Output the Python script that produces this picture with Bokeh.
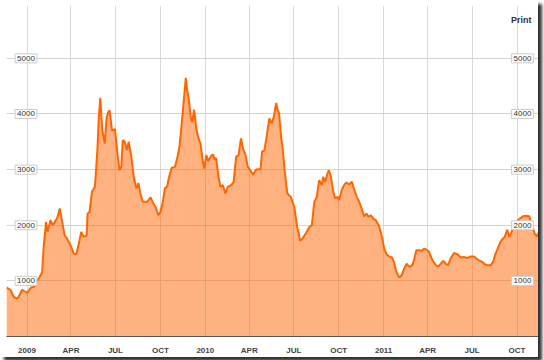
import pandas as pd
from bokeh.plotting import figure
from bokeh.models import Label, FixedTicker, ColumnDataSource, Range1d, Grid
from bokeh.embed import file_html
from bokeh.resources import INLINE

dates = [
    "2008-11-20", "2008-11-28", "2008-12-05", "2008-12-12", "2008-12-15", "2008-12-22", "2008-12-29",
    "2009-01-02", "2009-01-09", "2009-01-15", "2009-01-20", "2009-01-27", "2009-02-01", "2009-02-04",
    "2009-02-09", "2009-02-12", "2009-02-18", "2009-02-23", "2009-03-01", "2009-03-05", "2009-03-09",
    "2009-03-14", "2009-03-19", "2009-03-24", "2009-03-31", "2009-04-07", "2009-04-12", "2009-04-17",
    "2009-04-22", "2009-04-27", "2009-05-03", "2009-05-05", "2009-05-09", "2009-05-14", "2009-05-20",
    "2009-05-25", "2009-05-28", "2009-05-31", "2009-06-04", "2009-06-09", "2009-06-13", "2009-06-17",
    "2009-06-19", "2009-06-24", "2009-06-30", "2009-07-05", "2009-07-09", "2009-07-13", "2009-07-16",
    "2009-07-20", "2009-07-25", "2009-07-28", "2009-08-02", "2009-08-08", "2009-08-13", "2009-08-17",
    "2009-08-21", "2009-08-26", "2009-09-04", "2009-09-11", "2009-09-16", "2009-09-21", "2009-09-27",
    "2009-10-01", "2009-10-06", "2009-10-10", "2009-10-15", "2009-10-18", "2009-10-24", "2009-10-31",
    "2009-11-05", "2009-11-09", "2009-11-13", "2009-11-18", "2009-11-22", "2009-11-25", "2009-11-28",
    "2009-12-02", "2009-12-05", "2009-12-09", "2009-12-14", "2009-12-19", "2009-12-22", "2009-12-27",
    "2009-12-30", "2010-01-03", "2010-01-07", "2010-01-13", "2010-01-17", "2010-01-20", "2010-01-23",
    "2010-01-28", "2010-02-01", "2010-02-06", "2010-02-11", "2010-02-16", "2010-02-23", "2010-02-28",
    "2010-03-05", "2010-03-10", "2010-03-15", "2010-03-20", "2010-03-24", "2010-03-29", "2010-04-05",
    "2010-04-09", "2010-04-15", "2010-04-24", "2010-04-27", "2010-05-02", "2010-05-07", "2010-05-12",
    "2010-05-17", "2010-05-21", "2010-05-26", "2010-05-29", "2010-06-01", "2010-06-05", "2010-06-08",
    "2010-06-13", "2010-06-18", "2010-06-25", "2010-07-02", "2010-07-08", "2010-07-11", "2010-07-14",
    "2010-07-19", "2010-07-26", "2010-08-02", "2010-08-07", "2010-08-12", "2010-08-17", "2010-08-22",
    "2010-08-28", "2010-08-30", "2010-09-03", "2010-09-08", "2010-09-11", "2010-09-15", "2010-09-20",
    "2010-09-24", "2010-09-29", "2010-10-02", "2010-10-07", "2010-10-12", "2010-10-17", "2010-10-22",
    "2010-10-28", "2010-11-02", "2010-11-07", "2010-11-12", "2010-11-17", "2010-11-22", "2010-11-27",
    "2010-12-01", "2010-12-06", "2010-12-11", "2010-12-16", "2010-12-22", "2010-12-26", "2010-12-30",
    "2011-01-02", "2011-01-07", "2011-01-12", "2011-01-18", "2011-01-22", "2011-01-27", "2011-02-02",
    "2011-02-07", "2011-02-12", "2011-02-17", "2011-02-22", "2011-02-28", "2011-03-04", "2011-03-09",
    "2011-03-14", "2011-03-20", "2011-03-25", "2011-03-30", "2011-04-04", "2011-04-11", "2011-04-18",
    "2011-04-23", "2011-04-28", "2011-05-03", "2011-05-08", "2011-05-13", "2011-05-18", "2011-05-25",
    "2011-06-01", "2011-06-08", "2011-06-14", "2011-06-21", "2011-06-28", "2011-07-05", "2011-07-10",
    "2011-07-15", "2011-07-22", "2011-07-27", "2011-08-01", "2011-08-08", "2011-08-13", "2011-08-18",
    "2011-08-24", "2011-08-28", "2011-09-02", "2011-09-06", "2011-09-11", "2011-09-15", "2011-09-20",
    "2011-09-25", "2011-10-04", "2011-10-13", "2011-10-20", "2011-10-26", "2011-10-30", "2011-11-06",
    "2011-11-11", "2011-11-15", "2011-11-20",
]
values = [
    880, 840, 710, 680, 720, 840, 800,
    790, 880, 890, 980, 1070, 1160, 1610,
    2060, 1880, 2090, 2000, 2090, 2160, 2300,
    2060, 1820, 1760, 1640, 1490, 1480, 1670,
    1880, 1790, 1820, 2210, 2240, 2600, 2690,
    3350, 3940, 4290, 3710, 3470, 3940, 4050,
    4060, 3700, 3730, 3290, 2990, 3050, 3530,
    3500, 3350, 3500, 3260, 2840, 2660, 2760,
    2570, 2420, 2420, 2500, 2400, 2330, 2180,
    2240, 2420, 2660, 2700, 2840, 3030, 3050,
    3230, 3410, 3770, 4250, 4650, 4420, 4280,
    3940, 3850, 4080, 3710, 3530, 3470, 3140,
    3020, 3260, 3150, 3250, 3270, 3180, 3210,
    2870, 2690, 2720, 2570, 2690, 2720, 2780,
    3230, 3260, 3560, 3350, 3270, 3050, 2960,
    2910, 3000, 3010, 3320, 3350, 3620, 3920,
    3830, 3940, 4200, 4070, 4010, 3590, 3410,
    2930, 2570, 2510, 2330, 1970, 1850, 1720,
    1760, 1860, 1970, 2000, 2420, 2510, 2810,
    2720, 2870, 2780, 2930, 2990, 2870, 2600,
    2480, 2510, 2450, 2630, 2720, 2770, 2730,
    2780, 2630, 2510, 2420, 2300, 2160, 2210,
    2150, 2180, 2120, 2090, 2000, 1880, 1730,
    1580, 1480, 1440, 1420, 1340, 1160, 1060,
    1100, 1220, 1310, 1250, 1280, 1370, 1550,
    1550, 1540, 1580, 1560, 1520, 1370, 1280,
    1260, 1310, 1360, 1310, 1280, 1400, 1500,
    1480, 1420, 1430, 1410, 1440, 1440, 1400,
    1370, 1340, 1300, 1280, 1280, 1340, 1490,
    1610, 1700, 1760, 1790, 1920, 1790, 1880,
    2000, 2100, 2160, 2170, 2160, 2060, 1850,
    1800, 1880, 1910,
]

tick_dates = ["2009-01-01", "2009-04-01", "2009-07-01", "2009-10-01",
              "2010-01-01", "2010-04-01", "2010-07-01", "2010-10-01",
              "2011-01-01", "2011-04-01", "2011-07-01", "2011-10-01"]
tick_labels = ["2009", "APR", "JUL", "OCT", "2010", "APR", "JUL", "OCT",
               "2011", "APR", "JUL", "OCT"]
y_ticks = [1000, 2000, 3000, 4000, 5000]
series_name = "Print"

src = ColumnDataSource(dict(date=pd.to_datetime(dates), value=values))

p = figure(frame_width=532, frame_height=331, x_axis_type="datetime",
           y_axis_location=None,
           x_range=Range1d(pd.Timestamp("2008-11-20"), pd.Timestamp("2011-11-14")),
           y_range=Range1d(0, 5950),
           output_backend="svg", toolbar_location=None,
           min_border_left=6, min_border_right=0, min_border_top=5, min_border_bottom=0,
           styles={"box-shadow": "4px 4px 3px #333333"})
p.outline_line_color = None
p.background_fill_color = "white"
p.border_fill_color = "white"

tick_ms = [int(pd.Timestamp(d).timestamp() * 1000) for d in tick_dates]

p.xgrid.ticker = FixedTicker(ticks=tick_ms)
p.xgrid.grid_line_color = "#d9d9d9"
p.add_layout(Grid(dimension=1, ticker=FixedTicker(ticks=y_ticks), grid_line_color="#d4d4d4"))

p.varea(x="date", y1=0, y2="value", source=src, fill_color="#FF6600", fill_alpha=0.5)
p.line(x="date", y="value", source=src, line_color="#FF6600", line_width=2)

ax = p.xaxis[0]
ax.ticker = FixedTicker(ticks=tick_ms)
ax.major_label_overrides = dict(zip(tick_ms, tick_labels))
ax.major_tick_line_color = None
ax.minor_tick_line_color = None
ax.axis_line_color = "#555555"
ax.axis_line_width = 1
ax.major_label_text_font = "Liberation Sans"
ax.major_label_text_font_style = "bold"
ax.major_label_text_font_size = "8px"
ax.major_label_text_color = "#444444"
ax.major_label_standoff = 3

for v in y_ticks:
    for sx in (19.5, 516):
        p.add_layout(Label(x=sx, x_units="screen", y=v, text=str(v),
                           text_align="center", text_baseline="middle",
                           text_font="Liberation Sans", text_font_size="8px",
                           text_color="#333333", background_fill_color="white",
                           border_line_color="#cccccc", padding=2))

p.add_layout(Label(x=525, x_units="screen", y=5683, text=series_name,
                   text_align="right", text_baseline="middle",
                   text_font="Liberation Sans", text_font_size="9px",
                   text_font_style="bold", text_color="#333333"))

open("out.html", "w").write(file_html(p, INLINE))
